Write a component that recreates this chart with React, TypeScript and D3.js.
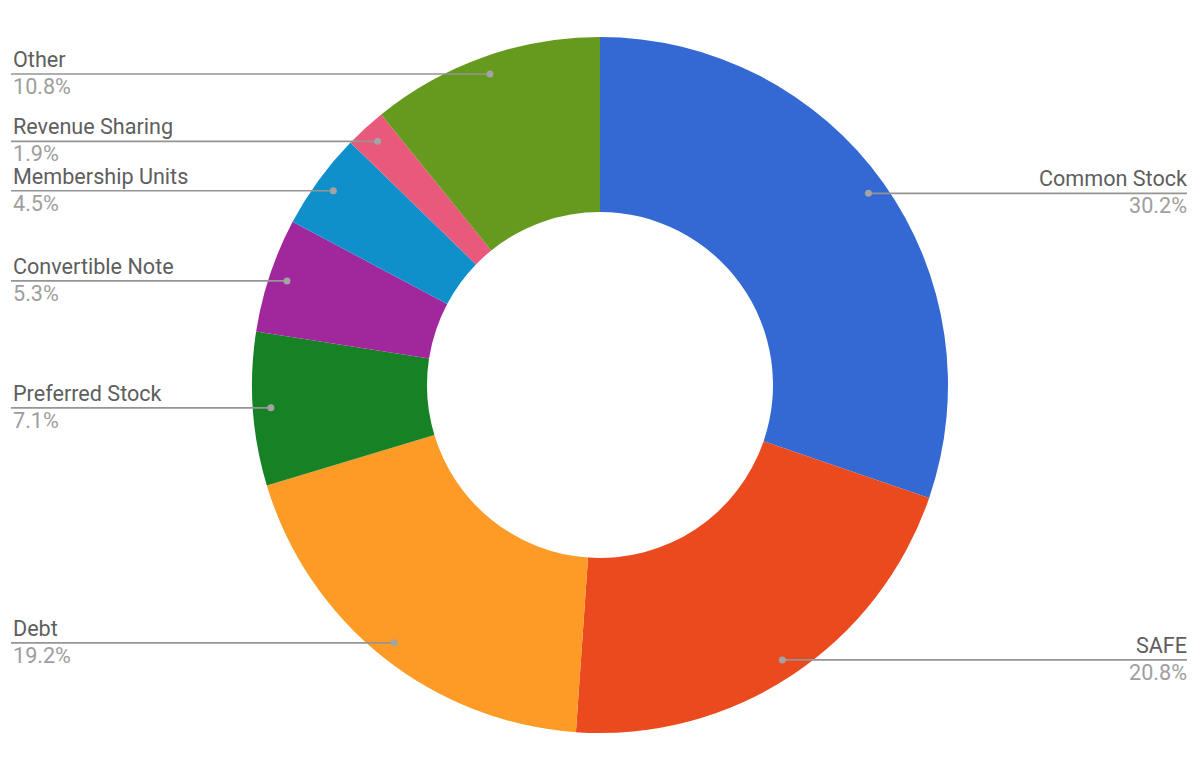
import React, { useEffect, useRef } from 'react';
import * as d3 from 'd3';

const categories = [
  'Common Stock',
  'SAFE',
  'Debt',
  'Preferred Stock',
  'Convertible Note',
  'Membership Units',
  'Revenue Sharing',
  'Other',
];
const shares = [30.2, 20.8, 19.2, 7.1, 5.3, 4.5, 1.9, 10.8];
const colors = ['#3469d3', '#eb4a1f', '#fe9b26', '#168125', '#a0279c', '#0f90cb', '#e8597b', '#669a1e'];

interface Slice {
  name: string;
  value: number;
  color: string;
}

const App: React.FC = () => {
  const svgRef = useRef<SVGSVGElement>(null);
  const width = 1200;
  const height = 757;

  useEffect(() => {
    if (!svgRef.current) return;
    const svg = d3.select(svgRef.current);
    svg.selectAll('*').remove();

    const cx = 600;
    const cy = 385;
    const outer = 348;
    const inner = 173;
    const dotR = outer * 0.948;

    const data: Slice[] = categories.map((name, i) => ({
      name,
      value: shares[i],
      color: colors[i],
    }));

    const pie = d3
      .pie<Slice>()
      .sort(null)
      .value((d) => d.value);

    const arc = d3.arc<d3.PieArcDatum<Slice>>().innerRadius(inner).outerRadius(outer);

    const arcs = pie(data);

    const g = svg.append('g').attr('transform', `translate(${cx},${cy})`);

    g.selectAll('path.slice')
      .data(arcs)
      .enter()
      .append('path')
      .attr('class', 'slice')
      .attr('d', arc)
      .attr('fill', (d) => d.data.color);

    // Leader lines and labels
    const labels = svg.append('g').attr('font-family', 'Roboto, sans-serif').attr('font-size', 21.6);

    arcs.forEach((d) => {
      const mid = (d.startAngle + d.endAngle) / 2;
      const px = cx + dotR * Math.sin(mid);
      const py = cy - dotR * Math.cos(mid);
      const right = Math.sin(mid) > 0;
      const edge = right ? 1187 : 11;

      labels
        .append('line')
        .attr('x1', edge)
        .attr('x2', px)
        .attr('y1', py)
        .attr('y2', py)
        .attr('stroke', '#959595')
        .attr('stroke-width', 1.7);

      labels
        .append('circle')
        .attr('cx', px)
        .attr('cy', py)
        .attr('r', 3.5)
        .attr('fill', '#a3a3a3');

      labels
        .append('text')
        .attr('x', edge + (right ? 0 : 2))
        .attr('y', py - 7)
        .attr('text-anchor', right ? 'end' : 'start')
        .attr('fill', '#5e5e5e')
        .text(d.data.name);

      labels
        .append('text')
        .attr('x', edge + (right ? 0 : 2))
        .attr('y', py + 20)
        .attr('text-anchor', right ? 'end' : 'start')
        .attr('fill', '#9e9e9e')
        .text(`${d.data.value.toFixed(1)}%`);
    });
  }, []);

  return (
    <svg
      ref={svgRef}
      width={width}
      height={height}
      style={{ position: 'absolute', left: 0, top: 0, background: '#ffffff' }}
    />
  );
};

export default App;
